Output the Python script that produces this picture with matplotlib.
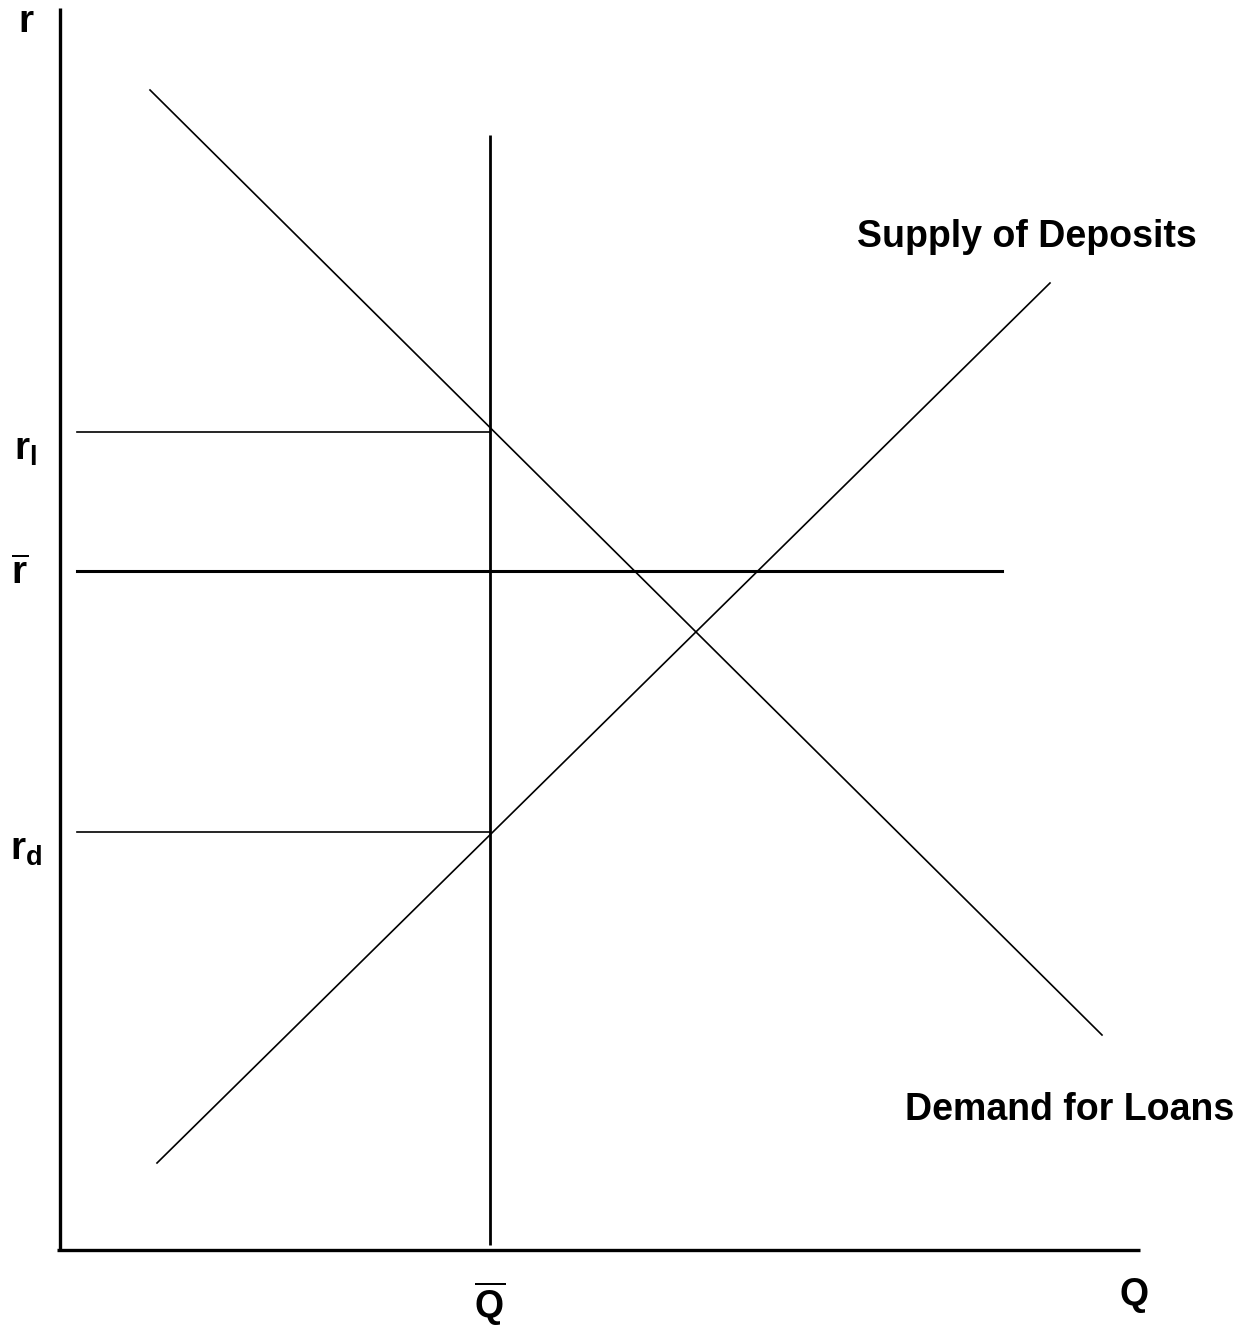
import matplotlib
matplotlib.use('Agg')
import matplotlib.pyplot as plt

plt.rcParams['font.family'] = ['Liberation Sans', 'DejaVu Sans']
plt.rcParams['mathtext.fontset'] = 'custom'
plt.rcParams['mathtext.rm'] = 'Liberation Sans:bold'
plt.rcParams['mathtext.it'] = 'Liberation Sans:bold'
plt.rcParams['mathtext.bf'] = 'Liberation Sans:bold'

# 数据 (Q, r) 坐标，原点在两轴交点
demand_q = [90, 1042]
demand_r = [1160, 215]
supply_q = [97, 990]
supply_r = [87, 967]

q_bar = 430
q_bar_r = [5, 1115]
r_l = 818
r_bar = 679
r_d = 418
r_bar_q = [17, 942]
rate_q = [17, q_bar]

r_axis_top = 1242
q_axis_right = 1080

fig = plt.figure(figsize=(12.58, 13.3), dpi=100)
ax = fig.add_axes([0, 0, 1, 1])
ax.set_xlim(-60, 1198)
ax.set_ylim(-80, 1250)
ax.axis('off')

# 坐标轴
ax.plot([0, 0], [0, r_axis_top], color='black', lw=2.4, solid_capstyle='butt')
ax.plot([-3, q_axis_right], [0, 0], color='black', lw=2.4, solid_capstyle='butt')

# 曲线
ax.plot(demand_q, demand_r, color='black', lw=1.2)
ax.plot(supply_q, supply_r, color='black', lw=1.2)

# Q bar 垂直线
ax.plot([q_bar, q_bar], q_bar_r, color='black', lw=2.0, solid_capstyle='butt')

# 水平线
ax.plot(rate_q, [r_l, r_l], color='black', lw=1.2)
ax.plot(r_bar_q, [r_bar, r_bar], color='black', lw=2.2)
ax.plot(rate_q, [r_d, r_d], color='black', lw=1.2)

# 标签
ax.text(-34, 1228, r'$\mathrm{r}$', fontsize=28, ha='center', va='center')
ax.text(-34, 800, r'$\mathrm{r_l}$', fontsize=28, ha='center', va='center')
ax.text(-40, 676, r'$\overline{\mathrm{r}}$', fontsize=28, ha='center', va='center')
ax.text(-34, 400, r'$\mathrm{r_d}$', fontsize=28, ha='center', va='center')
ax.text(q_bar, -54, r'$\overline{\mathrm{Q}}$', fontsize=27, ha='center', va='center')
ax.text(1074, -45, 'Q', fontsize=27, fontweight='bold', ha='center', va='center')

ax.text(797, 1013, 'Supply of Deposits', fontsize=27, fontweight='bold',
        ha='left', va='center')
ax.text(845, 140, 'Demand for Loans', fontsize=27, fontweight='bold',
        ha='left', va='center')

fig.savefig('out.png', dpi=100)
